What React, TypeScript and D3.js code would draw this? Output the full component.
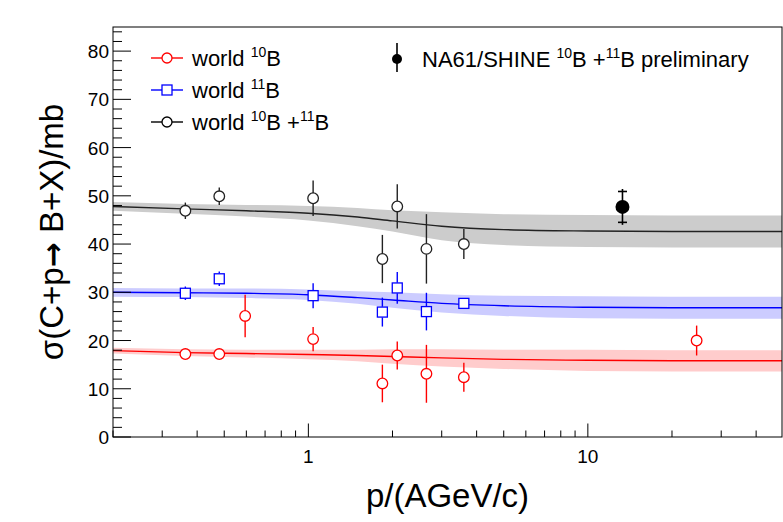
import React from 'react'
import * as d3 from 'd3'

// measured points (p in AGeV/c, sigma in mb)
const b10P = [0.363, 0.48, 0.594, 1.04, 1.84, 2.08, 2.645, 3.6, 24.5]
const b10Sigma = [17.2, 17.2, 25.1, 20.3, 11.1, 16.9, 13.1, 12.4, 20.0]
const b10Err = [0.8, 0.8, 4.4, 2.5, 3.9, 2.9, 6.0, 3.0, 3.1]

const b11P = [0.363, 0.48, 1.04, 1.84, 2.08, 2.645, 3.6]
const b11Sigma = [29.8, 32.8, 29.3, 25.9, 30.9, 26.0, 27.7]
const b11Err = [1.4, 1.5, 2.6, 3.0, 3.3, 3.9, 0.8]

const bSumP = [0.363, 0.48, 1.04, 1.84, 2.08, 2.645, 3.6]
const bSumSigma = [46.9, 49.9, 49.5, 36.9, 47.8, 39.0, 40.0]
const bSumErr = [1.7, 1.8, 3.7, 5.0, 4.6, 7.2, 3.1]

const na61P = [13.3]
const na61Sigma = [47.7]
const na61Err = [3.2]

// fitted curves with bands, read at these momenta
const curveP = [0.2, 0.36, 0.6, 1, 1.5, 2, 3, 5, 10, 20, 49.5]
const sumCurve = [47.8, 47.3, 46.9, 46.4, 45.6, 44.8, 43.7, 43.0, 42.7, 42.6, 42.6]
const sumBand = [0.9, 1.0, 1.2, 1.5, 1.9, 2.2, 2.9, 3.2, 3.3, 3.3, 3.3]
const b11Curve = [30.0, 29.9, 29.8, 29.5, 28.9, 28.4, 27.7, 27.2, 26.9, 26.8, 26.8]
const b11Band = [0.9, 0.9, 1.0, 1.1, 1.3, 1.6, 1.9, 2.1, 2.3, 2.3, 2.3]
const b10Curve = [17.9, 17.5, 17.3, 17.1, 16.9, 16.7, 16.4, 16.1, 15.9, 15.8, 15.8]
const b10Band = [0.6, 0.7, 0.8, 1.0, 1.2, 1.5, 1.8, 2.0, 2.2, 2.2, 2.2]

const yTicks = [0, 10, 20, 30, 40, 50, 60, 70, 80]
const xTickLabels = [1, 10]

const W = 783
const H = 522
const left = 113
const right = 782
const top = 27
const bottom = 437
const font = "'Liberation Sans', Arial, Helvetica, sans-serif"

const x = d3.scaleLog().domain([0.2, 49.5]).range([left, right])
const y = d3.scaleLinear().domain([0, 85]).range([bottom, top])

const RED = '#ff0000'
const BLUE = '#0000ff'
const BLACK = '#000000'

function Band({ vals, band, fill, stroke }: { vals: number[]; band: number[]; fill: string; stroke: string }) {
  const pts = curveP.map((p, i) => ({ p, v: vals[i], b: band[i] }))
  const area = d3.area<any>()
    .x(d => x(d.p))
    .y0(d => y(d.v - d.b))
    .y1(d => y(d.v + d.b))
    .curve(d3.curveMonotoneX)
  const line = d3.line<any>()
    .x(d => x(d.p))
    .y(d => y(d.v))
    .curve(d3.curveMonotoneX)
  return (
    <g clipPath="url(#frame)">
      <path d={area(pts) || ''} fill={fill} />
      <path d={line(pts) || ''} fill="none" stroke={stroke} strokeWidth={1.4} />
    </g>
  )
}

function Points({ ps, vs, es, color, shape }: { ps: number[]; vs: number[]; es: number[]; color: string; shape: string }) {
  return (
    <g>
      {ps.map((p, i) => {
        const cx = x(p)
        const cy = y(vs[i])
        const y0 = y(vs[i] - es[i])
        const y1 = y(vs[i] + es[i])
        const r = 5.3
        return (
          <g key={i}>
            {y1 < cy - r && <line x1={cx} x2={cx} y1={y1} y2={cy - r} stroke={color} strokeWidth={1.4} />}
            {y0 > cy + r && <line x1={cx} x2={cx} y1={cy + r} y2={y0} stroke={color} strokeWidth={1.4} />}
            {shape === 'circle'
              ? <circle cx={cx} cy={cy} r={r} fill="white" stroke={color} strokeWidth={1.3} />
              : <rect x={cx - 5} y={cy - 5} width={10} height={10} fill="white" stroke={color} strokeWidth={1.3} />}
          </g>
        )
      })}
    </g>
  )
}

function Na61() {
  return (
    <g>
      {na61P.map((p, i) => {
        const cx = x(p)
        const cy = y(na61Sigma[i])
        const lo = y(na61Sigma[i] - na61Err[i])
        const hi = y(na61Sigma[i] + na61Err[i])
        return (
          <g key={i} stroke={BLACK} strokeWidth={1.6}>
            <line x1={cx} x2={cx} y1={hi - 2.5} y2={lo + 2.5} />
            <line x1={cx - 4.5} x2={cx + 4.5} y1={hi} y2={hi} />
            <line x1={cx - 4.5} x2={cx + 4.5} y1={lo} y2={lo} />
            <circle cx={cx} cy={cy} r={7} fill={BLACK} stroke="none" />
          </g>
        )
      })}
    </g>
  )
}

function Axes() {
  const yMinor = d3.range(0, 85, 2)
  const xMinor: number[] = []
  ;[0.1, 1, 10].forEach(dec => {
    for (let k = 2; k <= 9; k++) {
      const v = dec * k
      if (v >= 0.2 && v <= 49.5) xMinor.push(v)
    }
  })
  return (
    <g>
      {yMinor.map(v => (
        <line key={'ym' + v} x1={left} x2={left + (v % 10 === 0 ? 18 : 9)} y1={y(v)} y2={y(v)} stroke={BLACK} strokeWidth={1} />
      ))}
      {yTicks.map(v => (
        <text key={'yl' + v} x={109} y={y(v) + 7} textAnchor="end" fontSize={19} fontFamily={font} fill={BLACK}>{v}</text>
      ))}
      {xMinor.map(v => (
        <line key={'xm' + v} x1={x(v)} x2={x(v)} y1={bottom} y2={bottom - 6.5} stroke={BLACK} strokeWidth={1} />
      ))}
      {xTickLabels.map(v => (
        <g key={'xl' + v}>
          <line x1={x(v)} x2={x(v)} y1={bottom} y2={bottom - 13.5} stroke={BLACK} strokeWidth={1} />
          <text x={x(v)} y={463} textAnchor="middle" fontSize={19} fontFamily={font} fill={BLACK}>{v}</text>
        </g>
      ))}
      <rect x={left} y={top} width={right - left} height={bottom - top} fill="none" stroke={BLACK} strokeWidth={1} />
      <text x={(left + right) / 2} y={507} textAnchor="middle" fontSize={33} fontFamily={font} fill={BLACK}>p/(AGeV/c)</text>
      <text transform={`translate(63, ${(top + bottom) / 2}) rotate(-90)`} textAnchor="middle" fontSize={33} fontFamily={font} fill={BLACK}>
        σ(C+p<tspan fontFamily="'DejaVu Sans'" fontWeight="bold" fontSize={30}>→</tspan> B+X)/mb
      </text>
    </g>
  )
}

function Sup({ t }: { t: string }) {
  return <tspan fontSize={14} dy={-9}>{t}</tspan>
}

function Legend() {
  const rows = [
    { c: RED, shape: 'circle', y: 58, parts: ['10', null] },
    { c: BLUE, shape: 'square', y: 90, parts: ['11', null] },
    { c: BLACK, shape: 'circle', y: 122, parts: ['10', '11'] },
  ]
  return (
    <g fontFamily={font} fill={BLACK}>
      {rows.map((r, i) => (
        <g key={i}>
          <line x1={151} x2={183} y1={r.y} y2={r.y} stroke={r.c} strokeWidth={1.4} />
          {r.shape === 'circle'
            ? <circle cx={167} cy={r.y} r={5} fill="white" stroke={r.c} strokeWidth={1.3} />
            : <rect x={162} y={r.y - 5} width={10} height={10} fill="white" stroke={r.c} strokeWidth={1.3} />}
          <text x={192} y={r.y + 7.5} fontSize={22}>
            world <Sup t={r.parts[0] as string} /><tspan dy={9}>B</tspan>
            {r.parts[1] && <tspan> +</tspan>}
            {r.parts[1] && <Sup t={r.parts[1]} />}
            {r.parts[1] && <tspan dy={9}>B</tspan>}
          </text>
        </g>
      ))}
      <line x1={397} x2={397} y1={43} y2={72} stroke={BLACK} strokeWidth={1.6} />
      <circle cx={397} cy={59} r={5} fill={BLACK} />
      <text x={422} y={67} fontSize={22}>
        NA61/SHINE <Sup t="10" /><tspan dy={9}>B +</tspan><Sup t="11" /><tspan dy={9}>B preliminary</tspan>
      </text>
    </g>
  )
}

export default function App() {
  return (
    <svg width={W} height={H} viewBox={`0 0 ${W} ${H}`} style={{ position: 'absolute', left: 0, top: 0, background: 'white' }}>
      <defs>
        <clipPath id="frame">
          <rect x={left} y={top} width={right - left} height={bottom - top} />
        </clipPath>
      </defs>
      <rect width={W} height={H} fill="white" />
      <Band vals={sumCurve} band={sumBand} fill="#cccccc" stroke="#222222" />
      <Band vals={b11Curve} band={b11Band} fill="#ccccff" stroke={BLUE} />
      <Band vals={b10Curve} band={b10Band} fill="#ffcccc" stroke={RED} />
      <Axes />
      <Points ps={b10P} vs={b10Sigma} es={b10Err} color={RED} shape="circle" />
      <Points ps={b11P} vs={b11Sigma} es={b11Err} color={BLUE} shape="square" />
      <Points ps={bSumP} vs={bSumSigma} es={bSumErr} color="#222222" shape="circle" />
      <Na61 />
      <Legend />
    </svg>
  )
}
